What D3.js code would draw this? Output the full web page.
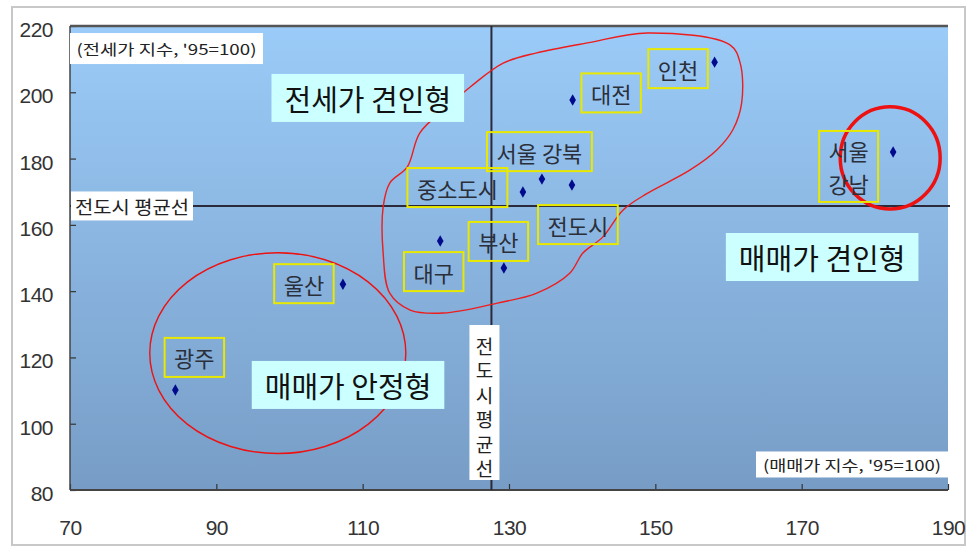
<!DOCTYPE html>
<html><head><meta charset="utf-8">
<script src="https://cdn.jsdelivr.net/npm/d3@7"></script>
<style>
html,body{margin:0;padding:0;background:#fff;}
svg{display:block;}
</style></head>
<body>
<svg id="chart" width="969" height="546"></svg>
<script>
// ---- data ----
const cities = ["인천","대전","서울 강북","중소도시","전도시","부산","대구","서울 강남","울산","광주"];
const saleIndex   = [158.1,138.7,134.5,131.9,138.6,129.3,120.6,182.5,107.3,84.4];   // 매매가 지수 (x)
const jeonseIndex = [209.1,197.7,173.8,169.9,172.0,147.0,155.1,182.0,142.1,110.2];  // 전세가 지수 (y)
const xTicks = [70,90,110,130,150,170,190];
const yTicks = [80,100,120,140,160,180,200,220];
const avgSale = 127.6, avgJeonse = 165.7;
const quadrantNames = ["전세가 견인형","매매가 견인형","매매가 안정형"];
const quadrantX = [110.7,172.8,108.0];
const quadrantY = [198.3,150.3,111.7];
const yAxisNote = "(전세가 지수, '95=100)";
const xAxisNote = "(매매가 지수, '95=100)";
const avgLabel = "전도시 평균선";
// annotation shapes (data units)
const blobX = [148.9,160.2,161.6,161.8,160.6,158.4,154.7,148.9,145.6,142.8,140.1,138.3,133.8,128.4,121.0,116.5,113.7,112.8,112.8,113.7,116.1,117.8,121.5,124.7,129.2,133.8,140.7];
const blobY = [217.9,214.3,208.8,196.8,188.7,182.6,176.5,169.5,164.5,156.3,151.5,145.4,139.4,136.4,133.4,134.3,139.4,151.5,165.4,172.6,177.5,187.7,195.6,201.6,208.8,211.9,214.9];
const ellipseCx = [98.4,182.1], ellipseCy = [121.3,180.2], ellipseRx = [17.5,6.83], ellipseRy = [30.3,15.4];

// ---- layout ----
const W = 969, H = 546;
const L = 70, R = 948, T = 26, B = 490;
const labelOffsets = [[-36.5,6.5],[38.5,-7],[-2.5,-27.5],[-65.5,-4.5],[6,39.5],[-5.5,-26.5],[-6.5,30.5],[-44.5,14.5],[-39,-0.5],[19,-32.5]];
const KFONT = "'Noto Sans CJK KR','Noto Sans',sans-serif";

const svg = d3.select("#chart");
const x = d3.scaleLinear().domain([70,190]).range([L,R]);
const y = d3.scaleLinear().domain([80,220]).range([B,T]);

// outer frame
svg.append("rect").attr("x",12).attr("y",7).attr("width",953).attr("height",538)
  .attr("fill","#fff").attr("stroke","#c8c8c8").attr("stroke-width",2);

// gradient background
const defs = svg.append("defs");
const grad = defs.append("linearGradient").attr("id","bg").attr("x1",0).attr("y1",0).attr("x2",0).attr("y2",1);
grad.append("stop").attr("offset","0%").attr("stop-color","#9bcbf8");
grad.append("stop").attr("offset","100%").attr("stop-color","#779dc6");
svg.append("rect").attr("x",L).attr("y",T).attr("width",R-L).attr("height",B-T).attr("fill","url(#bg)");

// axes
const xAxis = d3.axisBottom(x).tickValues(xTicks).tickSizeInner(-6).tickSizeOuter(0).tickPadding(30);
const yAxis = d3.axisLeft(y).tickValues(yTicks).tickSizeInner(-6).tickSizeOuter(0).tickPadding(17);
const gx = svg.append("g").attr("transform",`translate(0,${B})`).call(xAxis);
const gy = svg.append("g").attr("transform",`translate(${L},0)`).call(yAxis);
[gx,gy].forEach(g=>{
  g.select(".domain").remove();
  g.selectAll(".tick line").attr("stroke","#333").attr("stroke-width",1.2);
  g.selectAll(".tick text").attr("fill","#333").style("font-family","'Liberation Sans',Arial,sans-serif").style("font-size","21px").attr("letter-spacing","-0.5");
});
gy.selectAll(".tick text").attr("dy","0.5em");

// plot borders
svg.append("line").attr("x1",L).attr("x2",R).attr("y1",T).attr("y2",T).attr("stroke","#555").attr("stroke-width",2.5);
svg.append("line").attr("x1",L).attr("x2",L).attr("y1",T).attr("y2",B).attr("stroke","#444").attr("stroke-width",1.5);
svg.append("line").attr("x1",L).attr("x2",R).attr("y1",B).attr("y2",B).attr("stroke","#444").attr("stroke-width",2);

// average lines
svg.append("line").attr("x1",x(avgSale)).attr("x2",x(avgSale)).attr("y1",T).attr("y2",B).attr("stroke","#2a2a3a").attr("stroke-width",2);
svg.append("line").attr("x1",L).attr("x2",R+2).attr("y1",y(avgJeonse)).attr("y2",y(avgJeonse)).attr("stroke","#2a2a3a").attr("stroke-width",2);

// annotation shapes
const blobPts = blobX.map((v,i)=>[x(v),y(blobY[i])]);
svg.append("path").attr("d",d3.line().curve(d3.curveCatmullRomClosed)(blobPts))
  .attr("fill","none").attr("stroke","#ee1c1c").attr("stroke-width",1.4);
const ellW = [1.4,3.5];
ellipseCx.forEach((cx,i)=>{
  svg.append("ellipse").attr("cx",x(cx)).attr("cy",y(ellipseCy[i]))
    .attr("rx",x(cx+ellipseRx[i])-x(cx)).attr("ry",y(ellipseCy[i]-ellipseRy[i])-y(ellipseCy[i]))
    .attr("fill","none").attr("stroke","#ee1111").attr("stroke-width",ellW[i]);
});

// white note boxes
function noteBox(txt, cx, cy, w, h, tl, fs){
  svg.append("rect").attr("x",cx-w/2).attr("y",cy-h/2).attr("width",w).attr("height",h).attr("fill","#fff");
  svg.append("text").attr("x",cx).attr("y",cy).attr("text-anchor","middle").attr("dominant-baseline","central")
    .style("font-family",KFONT).style("font-size",fs+"px").attr("fill","#222")
    .attr("textLength",tl).attr("lengthAdjust","spacingAndGlyphs").text(txt);
}
noteBox(yAxisNote, L+96.5, y(213.2), 193, 31, 180, 15);
noteBox(xAxisNote, R-96, y(87.7), 192, 26, 178, 15);
noteBox(avgLabel, L+62, y(avgJeonse), 122, 29, 114, 18);

// vertical average label
const vChars = Array.from(avgLabel.replace(" ",""));
const vx = x(avgSale)-7;
svg.append("rect").attr("x",vx-15).attr("y",325).attr("width",30).attr("height",155).attr("fill","#fff");
vChars.forEach((c,i)=>{
  svg.append("text").attr("x",vx).attr("y",345+i*24.5).attr("text-anchor","middle").attr("dominant-baseline","central")
    .style("font-family",KFONT).style("font-size","19px").attr("fill","#222").text(c);
});

// quadrant labels
quadrantNames.forEach((n,i)=>{
  const g = svg.append("g");
  const t = g.append("text").attr("x",x(quadrantX[i])).attr("y",y(quadrantY[i])).attr("text-anchor","middle")
    .attr("dominant-baseline","central").style("font-family",KFONT).style("font-size","29px").attr("fill","#111").text(n);
  const bb = t.node().getBBox();
  g.insert("rect","text").attr("x",bb.x-13).attr("y",y(quadrantY[i])-24).attr("width",bb.width+26).attr("height",48).attr("fill","#ccffff");
});

// points
svg.append("g").selectAll("path").data(cities).join("path")
  .attr("transform",(d,i)=>`translate(${x(saleIndex[i])},${y(jeonseIndex[i])})`)
  .attr("d",d3.symbol().type(d3.symbolDiamond).size(38)).attr("fill","#000a8c");

// city labels with yellow boxes
cities.forEach((c,i)=>{
  const px = x(saleIndex[i])+labelOffsets[i][0], py = y(jeonseIndex[i])+labelOffsets[i][1];
  const g = svg.append("g");
  let bw, bh;
  if (c === "서울 강남"){
    const parts = c.split(" ");
    parts.forEach((p,k)=>{
      g.append("text").attr("x",px).attr("y",py-16+k*33).attr("text-anchor","middle").attr("dominant-baseline","central")
        .style("font-family",KFONT).style("font-size","22px").attr("fill","#2a2f3a").text(p);
    });
    bw = 59; bh = 71;
  } else {
    const t = g.append("text").attr("x",px).attr("y",py).attr("text-anchor","middle").attr("dominant-baseline","central")
      .style("font-family",KFONT).style("font-size","22px").attr("fill","#2a2f3a").text(c);
    bw = t.node().getBBox().width+19; bh = 39;
  }
  g.append("rect").attr("x",px-bw/2).attr("y",py-bh/2).attr("width",bw).attr("height",bh)
    .attr("fill","none").attr("stroke","#e8e800").attr("stroke-width",2);
});
</script>
</body></html>
